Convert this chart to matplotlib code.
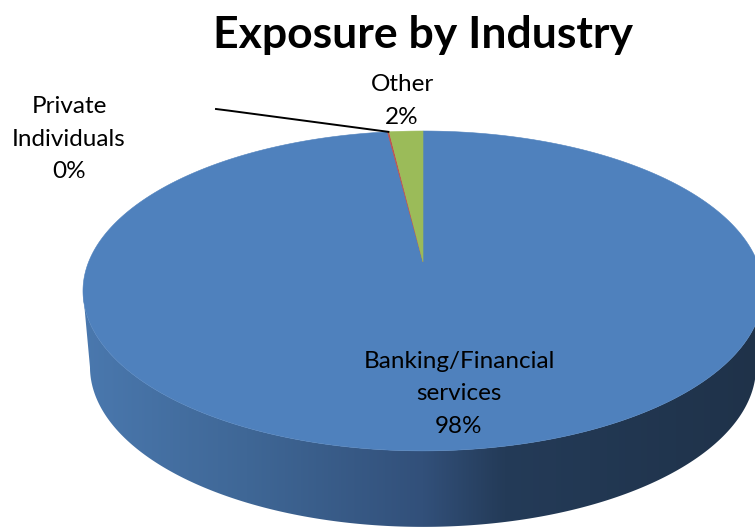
import matplotlib as mpl
mpl.use('Agg')
import matplotlib.pyplot as plt
from matplotlib.colors import LinearSegmentedColormap
from matplotlib.patches import Polygon
import numpy as np

categories = ['Banking/Financial\nservices', 'Private\nIndividuals', 'Other']
shares = [98.0, 0.1, 1.9]
shown = ['98%', '0%', '2%']
colors = ['#4F81BD', '#C0504D', '#9BBB59']

cx, apex_y = 423, 262
k, a, b = 0.181, 154.7, 334.4
depth = 76


def project(theta, shrink=1.0, drop=0):
    # circle seen in perspective, theta runs clockwise from the top
    u, v = np.sin(theta), np.cos(theta)
    w = 1 + k * v
    return cx + shrink * b * u / w, apex_y - a * v / w + drop


fig = plt.figure(figsize=(7.55, 5.27), dpi=100)
ax = fig.add_axes([0, 0, 1, 1])
ax.set_xlim(0, 755)
ax.set_ylim(527, 0)
ax.axis('off')

# side of the disc, front half only
t = np.linspace(0, 2 * np.pi, 721)
xs, ys = project(t)
xb, yb = project(t, 333 / 340, depth)
left = np.argmin(xs)
right = np.argmax(xs)
top_x, top_y = xs[right:left + 1], ys[right:left + 1]
bot_x, bot_y = xb[right:left + 1][::-1], yb[right:left + 1][::-1]
side = Polygon(np.column_stack([np.r_[top_x, bot_x], np.r_[top_y, bot_y]]),
               closed=True, transform=ax.transData, fc='none', ec='none')
ax.add_patch(side)
cmap = LinearSegmentedColormap.from_list('side', [(0, '#4A78AE'), (0.24, '#3F6796'), (0.5, '#32507A'),
                                                  (0.62, '#243B58'), (1, '#1F3249')])
grad = ax.imshow(np.linspace(0, 1, 256).reshape(1, -1), cmap=cmap, aspect='auto',
                 extent=[83, 763, 527, 290], zorder=1)
grad.set_clip_path(side)
ax.set_xlim(0, 755)
ax.set_ylim(527, 0)

# top face
edges = np.r_[0, np.cumsum(shares)] / np.sum(shares) * 2 * np.pi
for i in range(len(shares)):
    th = np.linspace(edges[i], edges[i + 1], max(3, int(shares[i] * 8)))
    px, py = project(th)
    ax.fill(np.r_[cx, px], np.r_[apex_y, py], color=colors[i], lw=0.4, zorder=2)

# leader line for the small slice
mid = (edges[1] + edges[2]) / 2
lx, ly = project(mid)
ax.plot([216, 228, lx], [109, 110.5, ly], color='black', lw=1.4, zorder=3)

plt.rcParams['font.family'] = ['Lato', 'DejaVu Sans']
ax.text(423, 35, 'Exposure by Industry', ha='center', va='center', fontsize=32,
        fontweight='bold', color='black', zorder=4)
label_pos = [(459, 394), (69, 139), (402, 101)]
for name, pct, (x, y) in zip(categories, shown, label_pos):
    ax.text(x, y, name + '\n' + pct, ha='center', va='center', fontsize=17.5,
            linespacing=1.68, color='black', zorder=4)

fig.savefig('out.png', dpi=100)
plt.close()
